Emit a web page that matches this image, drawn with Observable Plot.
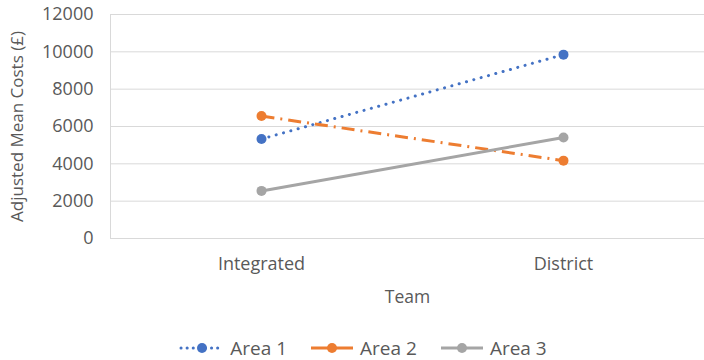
<!DOCTYPE html>
<html>
<head>
<meta charset="utf-8">
<script src="https://cdn.jsdelivr.net/npm/d3@7"></script>
<script src="https://cdn.jsdelivr.net/npm/@observablehq/plot@0.6"></script>
<style>
  html, body { margin: 0; padding: 0; background: #fff; }
  body { width: 704px; height: 360px; overflow: hidden; font-family: "Open Sans", Lato, sans-serif; }
  #legend { display: flex; justify-content: center; align-items: center; gap: 22px; font-size: 19px; color: #595959; margin-top: 16px; padding-left: 22px; line-height: 20px; height: 20px; }
  #legend .item { display: flex; align-items: center; gap: 5px; }
</style>
</head>
<body>
<div id="chart"></div>
<div id="legend"></div>
<script>
const teams = ["Integrated", "District"];
const seriesNames = ["Area 1", "Area 2", "Area 3"];
const area1 = [5330, 9850];
const area2 = [6560, 4170];
const area3 = [2550, 5410];
const yTicks = [0, 2000, 4000, 6000, 8000, 10000, 12000];
const colors = ["#4472C4", "#ED7D31", "#A5A5A5"];
const dashes = ["0.1 7.5", "13 6 2 6", null];
const caps = ["round", "butt", "butt"];
const widths = [3, 3, 3];

const allValues = [area1, area2, area3];
const data = [];
seriesNames.forEach((s, i) => teams.forEach((t, j) => data.push({series: s, team: t, value: allValues[i][j]})));

const marks = [
  Plot.ruleY(yTicks, {stroke: "#d9d9d9", strokeWidth: 1}),
  Plot.frame({anchor: "left", stroke: "#d9d9d9"}),
];
seriesNames.forEach((s, i) => {
  const d = data.filter(r => r.series === s);
  marks.push(Plot.line(d, {x: "team", y: "value", stroke: colors[i], strokeWidth: widths[i],
    strokeDasharray: dashes[i], strokeLinecap: caps[i]}));
});
seriesNames.forEach((s, i) => {
  const d = data.filter(r => r.series === s);
  marks.push(Plot.dot(d, {x: "team", y: "value", r: 5, fill: colors[i], stroke: "none"}));
});

const chart = Plot.plot({
  width: 704,
  height: 322,
  marginLeft: 110,
  marginRight: 0,
  marginTop: 14,
  marginBottom: 84,
  style: {fontFamily: "'Open Sans', Lato, sans-serif", fontSize: "18px", color: "#595959", background: "#fff"},
  x: {type: "point", domain: teams, range: [261, 563], padding: 0, label: null},
  y: {domain: [0, 12000], label: null},
  marks: [
    ...marks,
    Plot.axisY({ticks: yTicks, tickSize: 0, tickPadding: 17, tickFormat: d => String(d), fill: "#595959", fontSize: 18, label: null}),
    Plot.axisY({ticks: [], tickSize: 0, fontSize: 17, fill: "#595959",
      label: "Adjusted Mean Costs (£)", labelAnchor: "center", labelArrow: false, labelOffset: 100}),
    Plot.axisX({tickSize: 0, tickPadding: 19, fill: "#595959", fontSize: 18, label: null}),
    Plot.text(["Team"], {frameAnchor: "bottom", dy: 64, fill: "#595959", fontSize: 17.5}),
  ]
});
document.getElementById("chart").appendChild(chart);

const legend = document.getElementById("legend");
seriesNames.forEach((s, i) => {
  const item = document.createElement("div");
  item.className = "item";
  const ns = "http://www.w3.org/2000/svg";
  const sw = document.createElementNS(ns, "svg");
  sw.setAttribute("width", 46); sw.setAttribute("height", 14);
  const ln = document.createElementNS(ns, "line");
  ln.setAttribute("x1", 2); ln.setAttribute("x2", 44); ln.setAttribute("y1", 7); ln.setAttribute("y2", 7);
  ln.setAttribute("stroke", colors[i]); ln.setAttribute("stroke-width", widths[i]);
  if (i === 0) ln.setAttribute("stroke-dasharray", "0.1 6");
  ln.setAttribute("stroke-linecap", caps[i]);
  const c = document.createElementNS(ns, "circle");
  c.setAttribute("cx", 23); c.setAttribute("cy", 7); c.setAttribute("r", 5); c.setAttribute("fill", colors[i]);
  sw.appendChild(ln); sw.appendChild(c);
  const tx = document.createElement("span"); tx.textContent = s;
  item.appendChild(sw); item.appendChild(tx);
  legend.appendChild(item);
});
</script>
</body>
</html>
